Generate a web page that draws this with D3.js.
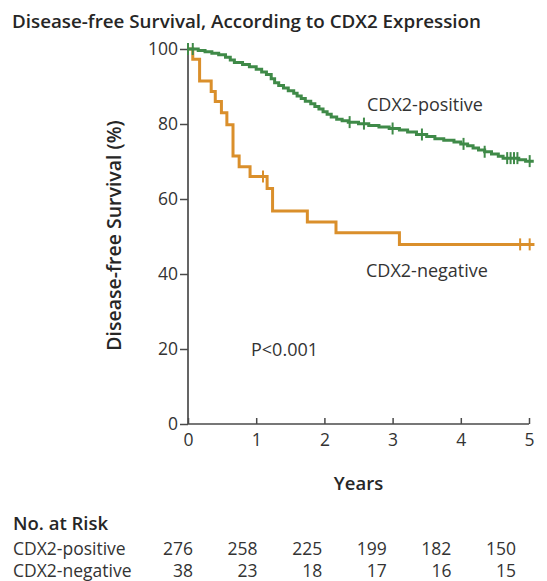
<!DOCTYPE html>
<html><head><meta charset="utf-8">
<script src="https://cdn.jsdelivr.net/npm/d3@7"></script>
<style>
html,body{margin:0;padding:0;background:#fff;}
svg{display:block;font-family:"Open Sans","Noto Sans",sans-serif;}
</style></head>
<body>
<svg id="chart" width="547" height="581"></svg>
<script>
// ---- data ----
const xTicks = [0, 1, 2, 3, 4, 5];
const yTicks = [0, 20, 40, 60, 80, 100];
// Kaplan-Meier event steps: [years, survival %]
const positiveSteps = [
  [0.15,99.6],[0.25,99.3],[0.35,98.9],[0.45,98.5],[0.55,97.8],[0.62,97.1],[0.68,96.4],
  [0.80,95.9],[0.90,95.3],[1.00,94.6],[1.08,93.9],[1.15,93.2],[1.22,92.1],[1.27,91.0],
  [1.33,90.3],[1.40,89.6],[1.47,88.9],[1.55,88.2],[1.60,87.5],[1.66,86.8],[1.72,86.1],
  [1.80,85.4],[1.86,84.7],[1.92,84.0],[1.98,83.3],[2.04,82.6],[2.10,81.9],[2.18,81.3],
  [2.26,80.9],[2.35,80.5],[2.50,80.1],[2.65,79.6],[2.80,79.2],[2.95,78.8],[3.10,78.4],
  [3.22,77.9],[3.35,77.2],[3.50,76.7],[3.62,76.1],[3.75,75.7],[3.90,75.2],[4.00,74.7],
  [4.10,74.2],[4.18,73.6],[4.26,73.1],[4.35,72.6],[4.45,72.0],[4.55,71.4],[4.62,70.9],
  [4.85,70.5],[4.95,70.1]
];
const positiveCensored = [0.0, 0.07, 2.37, 2.58, 3.0, 3.43, 4.04, 4.35, 4.68, 4.73, 4.78, 4.83, 5.01];
const positiveEnd = 5.07;

const negativeSteps = [
  [0.07,97.3],[0.17,91.5],[0.34,88.7],[0.40,86.0],[0.49,83.0],[0.57,79.8],[0.66,71.5],
  [0.75,68.6],[0.91,66.0],[1.16,62.8],[1.24,56.8],[1.75,53.9],[2.17,51.0],[3.10,47.9]
];
const negativeCensored = [1.10, 4.87, 5.01];
const negativeEnd = 5.08;

const riskGroups = ["CDX2-positive", "CDX2-negative"];
const riskPositive = [276, 258, 225, 199, 182, 150];
const riskNegative = [38, 23, 18, 17, 16, 15];

// ---- drawing ----
const svg = d3.select("#chart");
const x = d3.scaleLinear().domain([0, 5]).range([188, 529]);
const y = d3.scaleLinear().domain([0, 100]).range([424, 49]);
const xr = d3.scaleLinear().domain([0, 5]).range([193, 516]);

const textCol = "#333";
const boldCol = "#262626";
const axisCol = "#4a4a4a";
const green = "#3f8a48";
const orange = "#da8f2b";

svg.append("text").attr("x", 12).attr("y", 28)
  .attr("font-size", 18.8).attr("font-weight", 600).attr("fill", boldCol)
  .text("Disease-free Survival, According to CDX2 Expression");

// axes
const yAxis = d3.axisLeft(y).tickValues(yTicks).tickFormat(d3.format("d")).tickSize(8).tickPadding(2);
const gy = svg.append("g").attr("transform", `translate(${x(0)},0)`).call(yAxis);
const xAxis = d3.axisBottom(x).tickValues(xTicks).tickFormat(d3.format("d")).tickSize(-6).tickPadding(10);
const gx = svg.append("g").attr("transform", `translate(0,${y(0)})`).call(xAxis);
[gx, gy].forEach(g => {
  g.select(".domain").attr("stroke", axisCol).attr("stroke-width", 1.7);
  g.selectAll(".tick line").attr("stroke", axisCol).attr("stroke-width", 1.5);
  g.selectAll(".tick text").attr("font-size", 17.5).attr("fill", textCol)
    .attr("font-family", "'Open Sans','Noto Sans',sans-serif");
});
gy.select(".domain").attr("d", `M0,${y(0)}V${y(100)}`);
gx.select(".domain").attr("d", `M${x(0)},0H${x(5)}`);

svg.append("text").attr("transform", `translate(121,${y(50) - 1}) rotate(-90)`)
  .attr("text-anchor", "middle").attr("font-size", 19.5).attr("font-weight", 600).attr("fill", boldCol)
  .text("Disease-free Survival (%)");
svg.append("text").attr("x", x(2.5)).attr("y", 490)
  .attr("text-anchor", "middle").attr("font-size", 18.5).attr("font-weight", 600).attr("fill", boldCol)
  .text("Years");

function km(steps, end) {
  const pts = [[0, 100]].concat(steps);
  pts.push([end, steps[steps.length - 1][1]]);
  return pts;
}
function survAt(steps, t) {
  let s = 100;
  for (const [tt, v] of steps) if (tt <= t) s = v;
  return s;
}
const line = d3.line().x(d => x(d[0])).y(d => y(d[1])).curve(d3.curveStepAfter);

function drawCurve(steps, end, cens, col) {
  svg.append("path").datum(km(steps, end)).attr("d", line)
    .attr("fill", "none").attr("stroke", col).attr("stroke-width", 3);
  svg.append("g").selectAll("line").data(cens).join("line")
    .attr("x1", d => x(d)).attr("x2", d => x(d))
    .attr("y1", d => y(survAt(steps, d)) - 6).attr("y2", d => y(survAt(steps, d)) + 6)
    .attr("stroke", col).attr("stroke-width", 2);
}
drawCurve(negativeSteps, negativeEnd, negativeCensored, orange);
drawCurve(positiveSteps, positiveEnd, positiveCensored, green);

svg.append("text").attr("x", 367).attr("y", 111).attr("font-size", 18).attr("fill", textCol).text("CDX2-positive");
svg.append("text").attr("x", 366).attr("y", 277).attr("font-size", 18).attr("fill", textCol).text("CDX2-negative");
svg.append("text").attr("x", 251).attr("y", 356).attr("font-size", 18).attr("fill", textCol).text("P<0.001");

// risk table
svg.append("text").attr("x", 13).attr("y", 530).attr("font-size", 18.5).attr("font-weight", 600).attr("fill", boldCol).text("No. at Risk");
const rows = [riskPositive, riskNegative];
const rowY = [555, 577];
rows.forEach((vals, i) => {
  svg.append("text").attr("x", 13).attr("y", rowY[i]).attr("font-size", 17.5).attr("fill", textCol).text(riskGroups[i]);
  svg.append("g").selectAll("text").data(vals).join("text")
    .attr("x", (d, j) => xr(xTicks[j])).attr("y", rowY[i])
    .attr("text-anchor", "end").attr("font-size", 17.5).attr("fill", textCol).text(d => d);
});
</script>
</body></html>
